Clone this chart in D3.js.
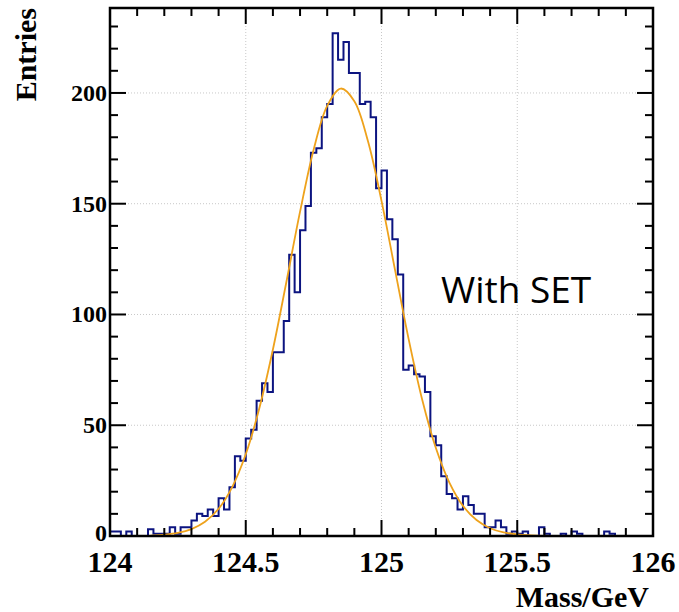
<!DOCTYPE html>
<html>
<head>
<meta charset="utf-8">
<title>Mass distribution with SET</title>
<script src="https://d3js.org/d3.v7.min.js"></script>
<style>
  body { margin: 0; background: #fff; }
  .lbl { font-family: "Liberation Serif", "Times New Roman", serif; font-weight: bold; fill: #000; }
</style>
</head>
<body>
<div id="chart"></div>
<script>
// histogram range and bin contents (100 bins of 0.02 GeV)
const binLow = 124, binHigh = 126
const counts = [
  2, 2, 0, 2, 0, 0, 0, 3, 1, 1,
  1, 4, 1, 4, 4, 7, 10, 9, 12, 9,
  17, 12, 22, 36, 34, 44, 48, 61, 69, 65,
  83, 83, 97, 127, 110, 138, 149, 173, 175, 189,
  195, 227, 215, 223, 209, 209, 195, 196, 189, 157,
  165, 143, 134, 118, 75, 77, 73, 72, 65, 45,
  41, 27, 19, 17, 12, 18, 14, 10, 10, 4,
  4, 7, 4, 1, 2, 1, 2, 0, 0, 4,
  1, 0, 0, 1, 0, 2, 1, 0, 0, 0,
  0, 2, 1, 0, 0, 0, 0, 0, 0, 0
]

// fit curve
const fitMass = [124.15, 124.2, 124.25, 124.3, 124.35, 124.4, 124.45, 124.5, 124.55, 124.6,
                 124.65, 124.7, 124.75, 124.8, 124.85, 124.9, 124.95, 125.0, 125.05, 125.1,
                 125.15, 125.2, 125.25, 125.3, 125.35, 125.4, 125.45, 125.5, 125.55, 125.6]
const fitEntries = [0.2, 0.6, 1.4, 3.1, 6.4, 12.3, 22.1, 36.9, 57.7, 84.2,
                    114.9, 146.4, 174.4, 194.2, 202, 196.3, 178.3, 151.3, 120, 88.9,
                    61.5, 39.8, 24.1, 13.6, 7.2, 3.5, 1.6, 0.7, 0.3, 0.1]

const xMajor = [124, 124.5, 125, 125.5, 126]
const xLabels = ["124", "124.5", "125", "125.5", "126"]
const yMajor = [0, 50, 100, 150, 200]
const yLabels = ["0", "50", "100", "150", "200"]

const W = 679, H = 612
const pLeft = 110, pRight = 653, pTop = 8, pBottom = 536

const svg = d3.select("#chart").append("svg")
    .attr("width", W).attr("height", H)

svg.append("rect").attr("width", W).attr("height", H).attr("fill", "#fff")

const x = d3.scaleLinear().domain([binLow, binHigh]).range([pLeft, pRight])
const y = d3.scaleLinear().domain([0, d3.max(counts) * 1.05]).range([pBottom, pTop])

// dotted grid at major ticks
const grid = svg.append("g").attr("stroke", "#c8c8c8").attr("stroke-width", 1).attr("stroke-dasharray", "1,2")
grid.selectAll(".gx").data(xMajor.slice(1, -1)).enter().append("line")
    .attr("x1", d => x(d)).attr("x2", d => x(d)).attr("y1", pTop).attr("y2", pBottom)
grid.selectAll(".gy").data(yMajor.slice(1)).enter().append("line")
    .attr("x1", pLeft).attr("x2", pRight).attr("y1", d => y(d)).attr("y2", d => y(d))

svg.append("clipPath").attr("id", "plot")
  .append("rect").attr("x", pLeft).attr("y", pTop).attr("width", pRight - pLeft).attr("height", pBottom - pTop)

// histogram outline
const n = counts.length
const edges = d3.range(n + 1).map(i => binLow + i * (binHigh - binLow) / n)
const pts = [[edges[0], 0]]
counts.forEach((c, i) => { pts.push([edges[i], c]); pts.push([edges[i + 1], c]) })
pts.push([edges[n], 0])

svg.append("path")
    .attr("clip-path", "url(#plot)")
    .attr("d", d3.line().x(d => x(d[0])).y(d => y(d[1]))(pts))
    .attr("fill", "none").attr("stroke", "#0c1480").attr("stroke-width", 2)

// fit
const fit = fitMass.map((m, i) => [m, fitEntries[i]])
svg.append("path")
    .attr("clip-path", "url(#plot)")
    .attr("d", d3.line().curve(d3.curveCatmullRom).x(d => x(d[0])).y(d => y(d[1]))(fit))
    .attr("fill", "none").attr("stroke", "#eea21c").attr("stroke-width", 1.8)

// ticks on all four sides, pointing inward
const ticks = svg.append("g").attr("stroke", "#000").attr("stroke-width", 2)
const xMinor = x.ticks(20), yMinor = y.ticks(24)
const isMajorX = v => xMajor.some(m => Math.abs(m - v) < 1e-6)
const isMajorY = v => yMajor.some(m => Math.abs(m - v) < 1e-6)
xMinor.forEach(v => {
  const len = isMajorX(v) ? 16 : 8
  ticks.append("line").attr("x1", x(v)).attr("x2", x(v)).attr("y1", pBottom).attr("y2", pBottom - len)
  ticks.append("line").attr("x1", x(v)).attr("x2", x(v)).attr("y1", pTop).attr("y2", pTop + len)
})
yMinor.forEach(v => {
  const len = isMajorY(v) ? 16 : 8
  ticks.append("line").attr("y1", y(v)).attr("y2", y(v)).attr("x1", pLeft).attr("x2", pLeft + len)
  ticks.append("line").attr("y1", y(v)).attr("y2", y(v)).attr("x1", pRight).attr("x2", pRight - len)
})

// frame
svg.append("rect")
    .attr("x", pLeft).attr("y", pTop).attr("width", pRight - pLeft).attr("height", pBottom - pTop)
    .attr("fill", "none").attr("stroke", "#000").attr("stroke-width", 2.5)

// tick labels
svg.selectAll(".xl").data(xMajor).enter().append("text")
    .attr("class", "lbl").attr("x", d => x(d)).attr("y", 572)
    .attr("text-anchor", "middle").attr("font-size", 30)
    .text((d, i) => xLabels[i])

svg.selectAll(".yl").data(yMajor).enter().append("text")
    .attr("class", "lbl").attr("x", 107).attr("y", d => y(d) + (d === 0 ? 5 : 8))
    .attr("text-anchor", "end").attr("font-size", 24)
    .text((d, i) => yLabels[i])

// axis titles
svg.append("text").attr("class", "lbl")
    .attr("x", 649).attr("y", 607).attr("text-anchor", "end").attr("font-size", 30)
    .text("Mass/GeV")

svg.append("text").attr("class", "lbl")
    .attr("transform", "translate(36,8) rotate(-90)")
    .attr("text-anchor", "end").attr("font-size", 30)
    .text("Entries")

svg.append("text")
    .attr("x", 441).attr("y", 303)
    .attr("font-family", "'Open Sans', 'Noto Sans', sans-serif").attr("font-size", 37)
    .attr("fill", "#000")
    .text("With SET")
</script>
</body>
</html>
